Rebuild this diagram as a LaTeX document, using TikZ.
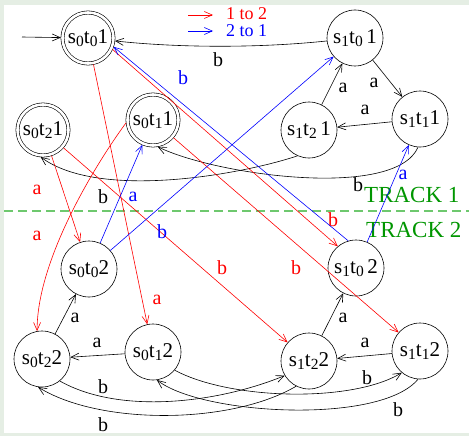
\documentclass[tikz,border=0pt]{standalone}
\usepackage{fontspec}
\setmainfont{Liberation Serif}
\usetikzlibrary{arrows.meta}
\definecolor{bgg}{RGB}{229,238,228}
\definecolor{trk}{RGB}{0,150,0}
\definecolor{trkline}{RGB}{110,200,110}
\definecolor{rd}{RGB}{255,0,0}
\definecolor{bl}{RGB}{0,0,255}
\newcommand\sbs[1]{\raisebox{-0.35ex}{\fontsize{15.5}{15.5}\selectfont #1}}
\newcommand\stn[3]{s\sbs{#1}t\sbs{#2}#3}
\begin{document}
\begin{tikzpicture}[x=1pt,y=-1pt,
  st/.style={circle, draw, minimum size=56pt, inner sep=0pt, line width=0.6pt,
    font=\fontsize{21}{23}\selectfont},
  acc/.style={st, minimum size=51pt, double, double distance=2.6pt, outer sep=1.6pt},
  e/.style={-{Straight Barb[length=8pt,width=7pt]}, line width=0.6pt},
  re/.style={e, rd},
  be/.style={e, bl},
  lbl/.style={font=\fontsize{20}{22}\selectfont, inner sep=0pt},
  rl/.style={lbl, rd},
  bll/.style={lbl, bl},
  leg/.style={font=\fontsize{18}{19}\selectfont, inner sep=0pt, anchor=west},
  trktext/.style={font=\fontsize{23}{25}\selectfont, text=trk, inner sep=0pt, anchor=west}]
\fill[bgg] (0,0) rectangle (469,436);
\fill[white] (4,5) rectangle (469,433);
\useasboundingbox (0,0) rectangle (469,436);

% track separator
\draw[trkline, dash pattern=on 9pt off 5pt, line width=1.1pt] (4,211) -- (469,211);
\node[trktext] (t1) at (364,195) {TRACK 1};
\node[trktext] (t2) at (366,230) {TRACK 2};

% legend
\coordinate (l1a) at (188,15); \coordinate (l1b) at (213,15);
\coordinate (l2a) at (188,31); \coordinate (l2b) at (213,31);
\draw[re] (l1a) -- (l1b);
\draw[be] (l2a) -- (l2b);
\node[leg, text=rd] (leg1) at (226,14) {1 to 2};
\node[leg, text=bl] (leg2) at (226,31) {2 to 1};

% states
\node[acc] (A) at (88,38) {\stn001};
\node[st] (B) at (355,38) {s\sbs1t\sbs0\,1};
\node[acc] (C) at (43,130) {\stn021};
\node[acc] (D) at (153,120) {\stn011};
\node[st] (E) at (309,130) {s\sbs1t\sbs2\,1};
\node[st] (F) at (420,119) {\stn111};
\node[st] (G) at (89,269) {\stn002};
\node[st] (H) at (356,268) {s\sbs1t\sbs0\,2};
\node[st] (I) at (42,359) {\stn022};
\node[st] (J) at (153,352) {\stn012};
\node[st] (K) at (309,361) {\stn122};
\node[st] (L) at (420,351) {\stn112};

% initial
\coordinate (init) at (22,37);
\draw[e] (init) -- (A);

% black edges, track 1
\draw[e] (B) .. controls (260,48) and (180,48) .. (A);
\draw[e] (B) -- (F);
\draw[e] (E) -- (B);
\draw[e] (F) -- (E);
\draw[e] (F.-94) .. controls (395,200) and (215,175) .. (D.-80);
\draw[e] (E.-114) .. controls (240,175) and (99,200) .. (C.-95);
\node[lbl] (lb1) at (218,60) {b};
\node[lbl] (lb2) at (374,83) {a};
\node[lbl] (lb3) at (343,88) {a};
\node[lbl] (lb4) at (365,110) {a};
\node[lbl] (lb5) at (358,185) {b};
\node[lbl] (lb6) at (103,197) {b};

% black edges, track 2
\draw[e] (I) -- (G);
\draw[e] (J) -- (I);
\draw[e] (K) -- (H);
\draw[e] (L) -- (K);
\draw[e] (I.-51) .. controls (120,415) and (218,403) .. (K.211);
\draw[e] (K.243) .. controls (230,425) and (99,425) .. (I.-98);
\draw[e] (J.-40) .. controls (230,400) and (352,403) .. (L.230);
\draw[e] (L.-94) .. controls (380,425) and (202,415) .. (J.-82);
\node[lbl] (lb7) at (75,318) {a};
\node[lbl] (lb8) at (97,343) {a};
\node[lbl] (lb9) at (343,318) {a};
\node[lbl] (lb10) at (365,343) {a};
\node[lbl] (lb11) at (103,387) {b};
\node[lbl] (lb12) at (103,425) {b};
\node[lbl] (lb13) at (367,378) {b};
\node[lbl] (lb14) at (398,410) {b};

% red edges (1 to 2)
\draw[re] (A) -- (J);
\draw[re] (C) -- (G);
\draw[re] (D.186) .. controls (95,165) and (37,260) .. (I.100);
\draw[re] (A.-25) -- (H.130);
\draw[re] (D) -- (L);
\draw[re] (C) -- (K);
\node[rl] (lr1) at (157,300) {a};
\node[rl] (lr2) at (37,190) {a};
\node[rl] (lr3) at (37,236) {a};
\node[rl] (lr4) at (333,220) {b};
\node[rl] (lr5) at (296,268) {b};
\node[rl] (lr6) at (222,268) {b};

% blue edges (2 to 1)
\draw[be] (H.106) -- (A.-19);
\draw[be] (G) -- (B);
\draw[be] (G) -- (D);
\draw[be] (H) -- (F);
\node[bll] (lbl1) at (183,78) {b};
\node[bll] (lbl2) at (162,232) {b};
\node[bll] (lbl3) at (133,197) {a};
\node[bll] (lbl4) at (403,175) {a};
\end{tikzpicture}
\end{document}
